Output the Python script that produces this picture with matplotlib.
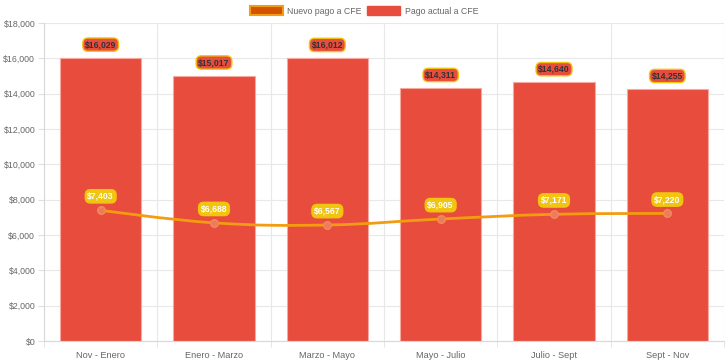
import matplotlib
matplotlib.use("Agg")
import matplotlib.pyplot as plt
from matplotlib.path import Path
from matplotlib.patches import PathPatch, Patch
from matplotlib.ticker import FuncFormatter, MultipleLocator
import numpy as np

plt.rcParams['font.family'] = ['Liberation Sans', 'DejaVu Sans']

categories = ["Nov - Enero", "Enero - Marzo", "Marzo - Mayo", "Mayo - Julio", "Julio - Sept", "Sept - Nov"]
pago_actual = [16029, 15017, 16012, 14311, 14640, 14255]
nuevo_pago = [7403, 6688, 6567, 6905, 7171, 7220]

W, H = 728, 363
fig = plt.figure(figsize=(W/100, H/100), dpi=100)
ax = fig.add_axes([44/W, 22/H, 680/W, 318/H])

x = np.arange(len(categories))
red = "#e74c3c"
orange = "#f39c12"
ax.bar(x, pago_actual, width=0.72, color=red, edgecolor="#f5a9a0", linewidth=0.8, zorder=2)

# smooth line (Chart.js-like tension bezier)
pts = np.column_stack([x, nuevo_pago]).astype(float)
t = 0.4
verts = [tuple(pts[0])]
codes = [Path.MOVETO]
n = len(pts)
for i in range(n - 1):
    p0 = pts[i - 1] if i > 0 else pts[i]
    p1 = pts[i]
    p2 = pts[i + 1]
    p3 = pts[i + 2] if i + 2 < n else pts[i + 1]
    c1 = p1 + (p2 - p0) * t / 2 if i > 0 else p1
    c2 = p2 - (p3 - p1) * t / 2 if i + 2 < n else p2
    verts += [tuple(c1), tuple(c2), tuple(p2)]
    codes += [Path.CURVE4] * 3
ax.add_patch(PathPatch(Path(verts, codes), facecolor="none", edgecolor=orange, lw=2, zorder=3))
ax.scatter(x, nuevo_pago, s=30, color="#f07b5a", edgecolor="#f08a5d", zorder=4)

for xi, v in zip(x, pago_actual):
    ax.annotate(f"${v:,}", (xi, v), xytext=(0, 9.5), textcoords="offset points", ha="center", va="center",
                fontsize=6.2, fontweight="bold", color="#333333", zorder=5,
                bbox=dict(boxstyle="round,pad=0.25,rounding_size=0.6", fc=red, ec="#f1c40f", lw=1))
for xi, v in zip(x, nuevo_pago):
    ax.annotate(f"${v:,}", (xi, v), xytext=(0, 10), textcoords="offset points", ha="center", va="center",
                fontsize=6.2, fontweight="bold", color="white", zorder=5,
                bbox=dict(boxstyle="round,pad=0.25,rounding_size=0.6", fc="#f1c40f", ec="#f1c40f", lw=1))

ax.set_xlim(-0.5, len(categories) - 0.5)
ax.set_ylim(0, 18000)
ax.yaxis.set_major_locator(MultipleLocator(2000))
ax.yaxis.set_major_formatter(FuncFormatter(lambda v, p: f"${int(v):,}"))
ax.set_xticks(x)
ax.set_xticklabels(categories)
ax.set_xticks(np.arange(-0.5, len(categories)), minor=True)
ax.tick_params(axis='x', which='major', length=0, pad=7, labelsize=6.6, labelcolor="#666666")
ax.tick_params(axis='x', which='minor', length=4.3, color="#e0e0e0")
ax.tick_params(axis='y', length=4.3, color="#e0e0e0", labelsize=6.3, labelcolor="#666666", pad=2)
ax.grid(axis='y', color="#e8e8e8", lw=0.8, zorder=0)
ax.grid(axis='x', which='minor', color="#e8e8e8", lw=0.8, zorder=0)
ax.set_axisbelow(True)
for s in ['top', 'right']:
    ax.spines[s].set_visible(False)
for s in ['left', 'bottom']:
    ax.spines[s].set_color("#d8d8d8")

handles = [Patch(facecolor="#d35400", edgecolor=orange, lw=1.5, label="Nuevo pago a CFE"),
           Patch(facecolor=red, edgecolor=red, label="Pago actual a CFE")]
fig.legend(handles=handles, loc="center", bbox_to_anchor=(0.5, 1 - 11/H), ncol=2, frameon=False,
           fontsize=6.3, handlelength=3.8, handleheight=1.1, columnspacing=0.6, handletextpad=0.5,
           labelcolor="#666666")

fig.savefig("out.png", dpi=100)
